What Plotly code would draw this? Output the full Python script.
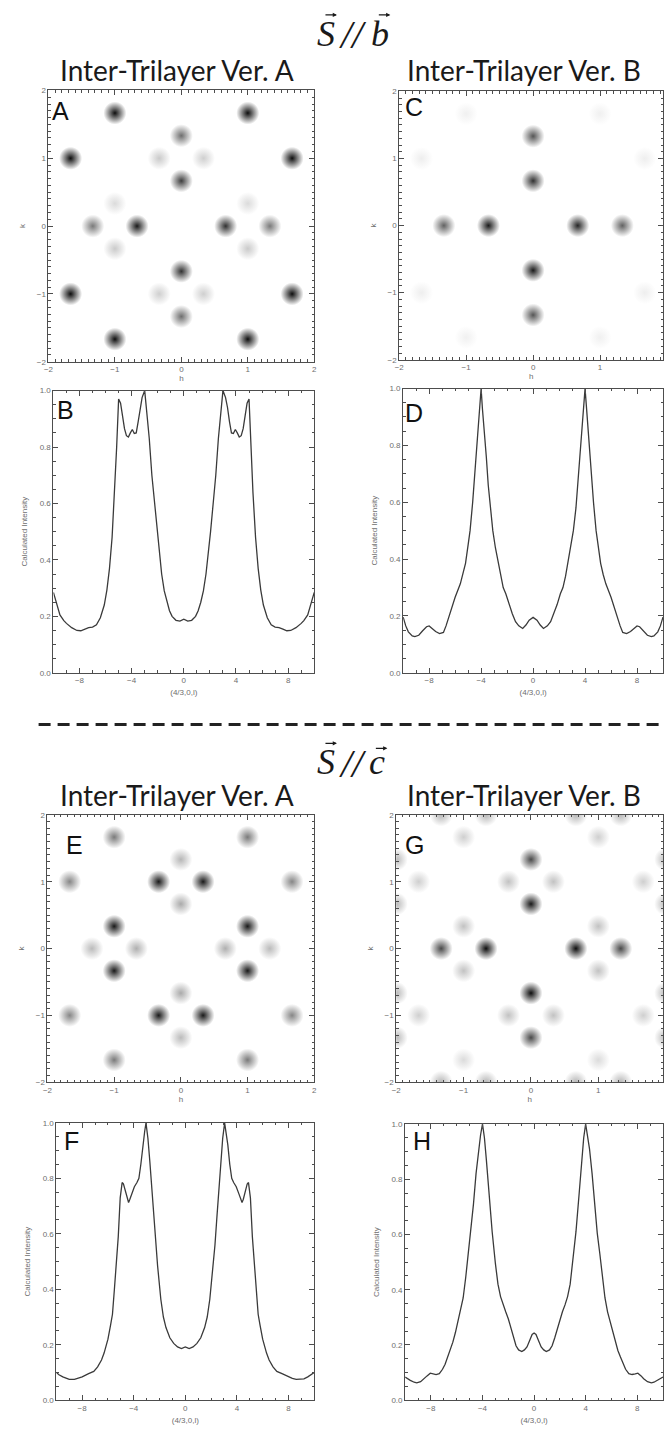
import plotly.graph_objects as go

W, H = 666, 1437

# ---------------- spot maps in the (h, k) plane ----------------
# S//b, inter-trilayer version A
a_h = [-1.0, 1.0, 0.0, -1.667, 1.667, -0.333, 0.333, 0.0, -1.0, 1.0, -1.333, -0.667,
       0.667, 1.333, -1.0, 1.0, 0.0, -1.667, 1.667, -0.333, 0.333, 0.0, -1.0, 1.0]
a_k = [1.667, 1.667, 1.333, 1.0, 1.0, 1.0, 1.0, 0.667, 0.333, 0.333, 0.0, 0.0,
       0.0, 0.0, -0.333, -0.333, -0.667, -1.0, -1.0, -1.0, -1.0, -1.333, -1.667, -1.667]
a_int = [1.0, 1.0, 0.6, 1.0, 1.0, 0.22, 0.2, 0.8, 0.15, 0.15, 0.55, 0.95,
         0.85, 0.55, 0.22, 0.22, 0.85, 1.0, 1.0, 0.2, 0.2, 0.6, 1.0, 1.0]

# S//b, inter-trilayer version B
c_h = [0.0, 0.0, -1.333, -0.667, 0.667, 1.333, 0.0, 0.0,
       -1.667, -1.667, 1.667, 1.667, -1.0, 1.0, -1.0, 1.0]
c_k = [1.333, 0.667, 0.0, 0.0, 0.0, 0.0, -0.667, -1.333,
       1.0, -1.0, 1.0, -1.0, 1.667, 1.667, -1.667, -1.667]
c_int = [0.7, 0.85, 0.65, 0.95, 0.9, 0.65, 0.95, 0.7,
         0.07, 0.07, 0.07, 0.07, 0.06, 0.06, 0.06, 0.06]

# S//c, inter-trilayer version A
e_h = [-1.0, 1.0, 0.0, -1.667, -0.333, 0.333, 1.667, 0.0, -1.0, 1.0, -1.333, -0.667,
       0.667, 1.333, -1.0, 1.0, 0.0, -1.667, -0.333, 0.333, 1.667, 0.0, -1.0, 1.0]
e_k = [1.667, 1.667, 1.333, 1.0, 1.0, 1.0, 1.0, 0.667, 0.333, 0.333, 0.0, 0.0,
       0.0, 0.0, -0.333, -0.333, -0.667, -1.0, -1.0, -1.0, -1.0, -1.333, -1.667, -1.667]
e_int = [0.55, 0.55, 0.3, 0.5, 0.95, 0.95, 0.5, 0.35, 0.95, 0.95, 0.28, 0.33,
         0.33, 0.28, 0.95, 0.95, 0.35, 0.5, 0.95, 0.95, 0.5, 0.28, 0.55, 0.55]

# S//c, inter-trilayer version B (last rows: spots sitting on the map border)
g_h = [-1.0, 1.0, 0.0, -1.667, -0.333, 0.333, 1.667, 0.0, -1.0, 1.0, -1.333, -0.667,
       0.667, 1.333, -1.0, 1.0, 0.0, -1.667, -0.333, 0.333, 1.667, 0.0, -1.0, 1.0,
       -1.333, -0.667, 0.667, 1.333, -1.333, -0.667, 0.667, 1.333,
       -2.0, -2.0, -2.0, -2.0, 2.0, 2.0, 2.0, 2.0]
g_k = [1.667, 1.667, 1.333, 1.0, 1.0, 1.0, 1.0, 0.667, 0.333, 0.333, 0.0, 0.0,
       0.0, 0.0, -0.333, -0.333, -0.667, -1.0, -1.0, -1.0, -1.0, -1.333, -1.667, -1.667,
       2.0, 2.0, 2.0, 2.0, -2.0, -2.0, -2.0, -2.0,
       1.333, 0.667, -0.667, -1.333, 1.333, 0.667, -0.667, -1.333]
g_int = [0.2, 0.2, 0.75, 0.2, 0.25, 0.25, 0.2, 0.95, 0.25, 0.25, 0.75, 1.0,
         1.0, 0.75, 0.25, 0.25, 1.0, 0.2, 0.25, 0.25, 0.2, 0.75, 0.15, 0.15,
         0.3, 0.3, 0.3, 0.3, 0.3, 0.3, 0.3, 0.3,
         0.3, 0.3, 0.3, 0.3, 0.3, 0.3, 0.3, 0.3]

# ---------------- intensity cuts along (4/3, 0, l) ----------------
b_l = [-10.0, -9.7, -9.5, -9.2, -9.0, -8.6, -8.2, -7.9, -7.6, -7.3, -7.0, -6.7, -6.4, -6.1,
       -5.9, -5.7, -5.5, -5.3, -5.15, -5.0, -4.85, -4.7, -4.55, -4.4, -4.25, -4.1, -3.95,
       -3.8, -3.65, -3.5, -3.35, -3.2, -3.0, -2.85, -2.65, -2.45, -2.25, -2.05, -1.9, -1.7,
       -1.5, -1.3, -1.1, -0.9, -0.6, -0.3, 0.0,
       0.3, 0.6, 0.9, 1.1, 1.3, 1.5, 1.7, 1.9, 2.05, 2.25, 2.45, 2.65, 2.85, 3.0, 3.2,
       3.35, 3.5, 3.65, 3.8, 3.95, 4.1, 4.25, 4.4, 4.55, 4.7, 4.85, 5.0, 5.15, 5.3, 5.5,
       5.7, 5.9, 6.1, 6.4, 6.7, 7.0, 7.3, 7.6, 7.9, 8.2, 8.6, 9.0, 9.2, 9.5, 9.7, 10.0]
b_int = [0.285, 0.235, 0.205, 0.185, 0.175, 0.16, 0.15, 0.149, 0.155, 0.16, 0.162, 0.17, 0.195, 0.24,
         0.293, 0.37, 0.48, 0.64, 0.8, 0.97, 0.955, 0.91, 0.865, 0.84, 0.835, 0.85, 0.862,
         0.848, 0.85, 0.89, 0.94, 0.975, 1.0, 0.93, 0.83, 0.7, 0.6, 0.5, 0.43, 0.35,
         0.29, 0.25, 0.22, 0.2, 0.186, 0.183, 0.19,
         0.183, 0.186, 0.2, 0.22, 0.25, 0.29, 0.35, 0.43, 0.5, 0.6, 0.7, 0.83, 0.93, 1.0, 0.975,
         0.94, 0.89, 0.85, 0.848, 0.862, 0.85, 0.835, 0.84, 0.865, 0.91, 0.955, 0.97, 0.8, 0.64, 0.48,
         0.37, 0.293, 0.24, 0.195, 0.17, 0.162, 0.16, 0.155, 0.149, 0.15, 0.16, 0.175, 0.185, 0.205, 0.235, 0.285]

d_l = [-10.0, -9.8, -9.6, -9.3, -9.1, -8.8, -8.5, -8.2, -8.0, -7.8, -7.5, -7.2, -6.9, -6.7,
       -6.5, -6.2, -6.0, -5.6, -5.4, -5.2, -5.0, -4.85, -4.65, -4.5, -4.35, -4.2, -4.1, -4.0,
       -3.9, -3.77, -3.6, -3.45, -3.3, -3.1, -2.9, -2.7, -2.5, -2.3, -2.1, -1.85, -1.6, -1.35,
       -1.1, -0.8, -0.55, -0.3, 0.0,
       0.3, 0.55, 0.8, 1.1, 1.35, 1.6, 1.85, 2.1, 2.3, 2.5, 2.7, 2.9, 3.1, 3.3, 3.45, 3.6,
       3.77, 3.9, 4.0, 4.1, 4.2, 4.35, 4.5, 4.65, 4.85, 5.0, 5.2, 5.4, 5.6, 6.0, 6.2, 6.5,
       6.7, 6.9, 7.2, 7.5, 7.8, 8.0, 8.2, 8.5, 8.8, 9.1, 9.3, 9.6, 9.8, 10.0]
d_int = [0.196, 0.165, 0.144, 0.13, 0.127, 0.132, 0.148, 0.162, 0.165, 0.158, 0.145, 0.138, 0.142, 0.165,
         0.196, 0.235, 0.266, 0.313, 0.345, 0.385, 0.45, 0.5, 0.6, 0.685, 0.78, 0.875, 0.94, 1.0,
         0.93, 0.862, 0.76, 0.66, 0.58, 0.5, 0.44, 0.395, 0.34, 0.3, 0.278, 0.24, 0.208, 0.18,
         0.165, 0.156, 0.168, 0.185, 0.195,
         0.185, 0.168, 0.156, 0.165, 0.18, 0.208, 0.24, 0.278, 0.3, 0.34, 0.395, 0.44, 0.5, 0.58, 0.66, 0.76,
         0.862, 0.93, 1.0, 0.94, 0.875, 0.78, 0.685, 0.6, 0.5, 0.45, 0.385, 0.345, 0.313, 0.266, 0.235, 0.196,
         0.165, 0.142, 0.138, 0.145, 0.158, 0.165, 0.162, 0.148, 0.132, 0.127, 0.13, 0.144, 0.165, 0.196]

f_l = [-10.0, -9.8, -9.5, -9.2, -9.0, -8.6, -8.3, -8.0, -7.5, -7.1, -6.8, -6.5, -6.3, -6.0,
       -5.8, -5.65, -5.5, -5.35, -5.2, -5.05, -4.9, -4.8, -4.65, -4.5, -4.4, -4.3, -4.15,
       -3.95, -3.75, -3.6, -3.45, -3.3, -3.15, -3.05, -2.9, -2.75, -2.6, -2.45, -2.3, -2.15,
       -1.9, -1.7, -1.5, -1.2, -0.9, -0.6, -0.3, 0.0,
       0.3, 0.6, 0.9, 1.2, 1.5, 1.7, 1.9, 2.15, 2.3, 2.45, 2.6, 2.75, 2.9, 3.05, 3.15, 3.3,
       3.45, 3.6, 3.75, 3.95, 4.15, 4.3, 4.4, 4.5, 4.65, 4.8, 4.9, 5.05, 5.2, 5.35, 5.5,
       5.65, 5.8, 6.0, 6.3, 6.5, 6.8, 7.1, 7.5, 8.0, 8.3, 8.6, 9.0, 9.2, 9.5, 9.8, 10.0]
f_int = [0.1, 0.092, 0.084, 0.077, 0.075, 0.075, 0.079, 0.084, 0.096, 0.104, 0.12, 0.145, 0.17, 0.22,
         0.27, 0.31, 0.4, 0.5, 0.59, 0.73, 0.785, 0.78, 0.753, 0.725, 0.713, 0.725, 0.745,
         0.77, 0.785, 0.8, 0.85, 0.92, 0.97, 1.0, 0.945, 0.86, 0.76, 0.66, 0.56, 0.485,
         0.364, 0.3, 0.262, 0.225, 0.205, 0.192, 0.186, 0.192,
         0.186, 0.192, 0.205, 0.225, 0.262, 0.3, 0.364, 0.485, 0.56, 0.66, 0.76, 0.86, 0.945, 1.0, 0.97, 0.92,
         0.85, 0.8, 0.785, 0.77, 0.745, 0.725, 0.713, 0.725, 0.753, 0.78, 0.785, 0.73, 0.59, 0.5, 0.4,
         0.31, 0.27, 0.22, 0.17, 0.145, 0.12, 0.104, 0.096, 0.084, 0.079, 0.075, 0.075, 0.077, 0.084, 0.092, 0.1]

h_l = [-10.0, -9.8, -9.6, -9.3, -9.1, -8.8, -8.5, -8.3, -8.05, -7.85, -7.6, -7.35, -7.1, -6.9,
       -6.7, -6.5, -6.3, -6.1, -5.9, -5.7, -5.5, -5.3, -5.1, -4.9, -4.7, -4.5, -4.3, -4.15,
       -4.0, -3.85, -3.7, -3.5, -3.25, -3.0, -2.8, -2.6, -2.4, -2.2, -2.0, -1.8, -1.6, -1.4,
       -1.2, -0.95, -0.75, -0.55, -0.35, -0.15, 0.0,
       0.15, 0.35, 0.55, 0.75, 0.95, 1.2, 1.4, 1.6, 1.8, 2.0, 2.2, 2.4, 2.6, 2.8, 3.0, 3.25,
       3.5, 3.7, 3.85, 4.0, 4.15, 4.3, 4.5, 4.7, 4.9, 5.1, 5.3, 5.5, 5.7, 5.9, 6.1, 6.3, 6.5,
       6.7, 6.9, 7.1, 7.35, 7.6, 7.85, 8.05, 8.3, 8.5, 8.8, 9.1, 9.3, 9.6, 9.8, 10.0]
h_int = [0.084, 0.077, 0.072, 0.065, 0.063, 0.067, 0.078, 0.088, 0.098, 0.095, 0.093, 0.096, 0.112, 0.13,
         0.156, 0.18, 0.21, 0.245, 0.285, 0.32, 0.37, 0.445, 0.53, 0.605, 0.71, 0.82, 0.91, 0.96,
         1.0, 0.95, 0.87, 0.75, 0.61, 0.495, 0.42, 0.375, 0.345, 0.32, 0.295, 0.26, 0.225, 0.197,
         0.182, 0.176, 0.182, 0.193, 0.215, 0.238, 0.243,
         0.238, 0.215, 0.193, 0.182, 0.176, 0.182, 0.197, 0.225, 0.26, 0.295, 0.32, 0.345, 0.375, 0.42, 0.495, 0.61,
         0.75, 0.87, 0.95, 1.0, 0.96, 0.91, 0.82, 0.71, 0.605, 0.53, 0.445, 0.37, 0.32, 0.285, 0.245, 0.21, 0.18,
         0.156, 0.13, 0.112, 0.096, 0.093, 0.095, 0.098, 0.088, 0.078, 0.067, 0.063, 0.065, 0.072, 0.077, 0.084]

map_ticks = [-2, -1, 0, 1, 2]
cut_xticks = [-8, -4, 0, 4, 8]
cut_yticks = [0.0, 0.2, 0.4, 0.6, 0.8, 1.0]


def dom_x(left, right):
    return [left / W, right / W]


def dom_y(top, bottom):
    return [1 - bottom / H, 1 - top / H]


def spot_colors(vals):
    out = []
    for v in vals:
        g = int(round(255 * (1 - 0.95 * v)))
        out.append(f"rgb({g},{g},{g})")
    return out


FRAME = "#4d4d4d"
TICKFONT = dict(family="Liberation Sans", size=8, color="#6e6e6e")


def axis(domain, rng, ticks, minor_dtick, title, standoff, fmt=None, anchor=None):
    d = dict(domain=domain, range=rng, tickmode="array", tickvals=ticks,
             ticks="inside", ticklen=5, tickwidth=1, tickcolor=FRAME,
             showline=True, linecolor=FRAME, linewidth=1, mirror="ticks",
             showgrid=False, zeroline=False, tickfont=TICKFONT,
             minor=dict(tickmode="linear", tick0=0, dtick=minor_dtick, ticks="inside",
                        ticklen=2.5, tickcolor=FRAME, showgrid=False),
             title=dict(text=title, font=dict(family="Liberation Sans", size=8, color="#6e6e6e"),
                        standoff=standoff),
             anchor=anchor, fixedrange=True)
    if fmt:
        d["tickformat"] = fmt
    return d


fig = go.Figure()

# panel geometry in pixels: (left, right, top, bottom) and x-range
maps = [
    ("A", a_h, a_k, a_int, (44, 313, 87, 360), [-2, 2]),
    ("C", c_h, c_k, c_int, (399, 666, 88, 358), [-2, 1.94]),
    ("E", e_h, e_k, e_int, (43, 313, 816, 1085), [-2, 2]),
    ("G", g_h, g_k, g_int, (396, 666, 816, 1085), [-2, 1.96]),
]
cuts = [
    ("B", b_l, b_int, (49, 313, 389, 673)),
    ("D", d_l, d_int, (403, 666, 387, 673)),
    ("F", f_l, f_int, (52, 313, 1126, 1405)),
    ("H", h_l, h_int, (405, 666, 1127, 1405)),
]

layout_axes = {}
n = 0
for name, hh, kk, ii, (l, r, t, b), xr in maps:
    n += 1
    xa, ya = f"x{n}", f"y{n}"
    layout_axes[f"xaxis{n}"] = axis(dom_x(l, r), xr, map_ticks, 0.1, "h", 2, anchor=ya)
    layout_axes[f"yaxis{n}"] = axis(dom_y(t, b), [-2, 2], map_ticks, 0.1, "k", 9, anchor=xa)
    # radial gradient: centre takes gradient.color, rim takes marker.color
    fig.add_trace(go.Scatter(
        x=hh, y=kk, mode="markers", xaxis=xa, yaxis=ya, showlegend=False, hoverinfo="skip",
        cliponaxis=True,
        marker=dict(size=23, color="white", line=dict(width=0),
                    gradient=dict(type="radial", color=spot_colors(ii)))))

for name, ll, vv, (l, r, t, b) in cuts:
    n += 1
    xa, ya = f"x{n}", f"y{n}"
    layout_axes[f"xaxis{n}"] = axis(dom_x(l, r), [-10, 10], cut_xticks, 1, "(4/3,0,l)", 5, anchor=ya)
    layout_axes[f"yaxis{n}"] = axis(dom_y(t, b), [0, 1.0], cut_yticks, 0.05,
                                    "Calculated Intensity", 10, fmt=".1f", anchor=xa)
    fig.add_trace(go.Scatter(
        x=ll, y=vv, mode="lines", xaxis=xa, yaxis=ya, showlegend=False, hoverinfo="skip",
        cliponaxis=True, line=dict(color="#3a3a3a", width=1.3)))

layout_axes["xaxis"] = layout_axes.pop("xaxis1")
layout_axes["yaxis"] = layout_axes.pop("yaxis1")

annotations = []


def text_at(x, y, txt, size, family, color="#1a1a1a", xanchor="center", yanchor="middle"):
    annotations.append(dict(x=x / W, y=1 - y / H, xref="paper", yref="paper", text=txt,
                            showarrow=False, xanchor=xanchor, yanchor=yanchor,
                            font=dict(size=size, family=family, color=color)))


def vector_arrow(x_head, y, length=13):
    annotations.append(dict(x=x_head / W, y=1 - y / H, xref="paper", yref="paper", text="",
                            showarrow=True, ax=-length, ay=0, axref="pixel", ayref="pixel",
                            arrowhead=2, arrowsize=0.7, arrowwidth=1.2, arrowcolor="#1a1a1a",
                            standoff=0, startstandoff=0))


# section titles: S // b and S // c, each symbol carrying a vector arrow
for cy, sym, sym_x, sym_arrow_y in ((30, "b", 380, 11), (763, "c", 377, 749)):
    text_at(325, cy, "<i>S</i>", 36, "Liberation Serif")
    text_at(352, cy + 1, "<i>//</i>", 40, "Liberation Serif")
    text_at(sym_x, cy, f"<i>{sym}</i>", 36, "Liberation Serif")
    vector_arrow(336, cy - 19)
    vector_arrow(sym_x + 10, sym_arrow_y)

# column headers
for cy in (66, 796):
    text_at(174, cy, "Inter-Trilayer Ver. A", 28, "Lato")
    text_at(525, cy, "Inter-Trilayer Ver. B", 28, "Lato")

# panel letters
for letter, x, y in [("A", 46, 92), ("C", 403, 88), ("B", 51, 392), ("D", 403, 395),
                     ("E", 60, 830), ("G", 403, 830), ("F", 58, 1128), ("H", 411, 1128)]:
    text_at(x, y, letter, 25, "Liberation Sans", color="#111", xanchor="left", yanchor="top")

shapes = [dict(type="line", xref="paper", yref="paper", x0=34 / W, x1=1.0,
               y0=1 - 725 / H, y1=1 - 725 / H,
               line=dict(color="#222", width=3, dash="12px,7px"))]

fig.update_layout(width=W, height=H, margin=dict(l=0, r=0, t=0, b=0), autosize=False,
                  paper_bgcolor="white", plot_bgcolor="white",
                  annotations=annotations, shapes=shapes, **layout_axes)

fig.write_html("out.html")
